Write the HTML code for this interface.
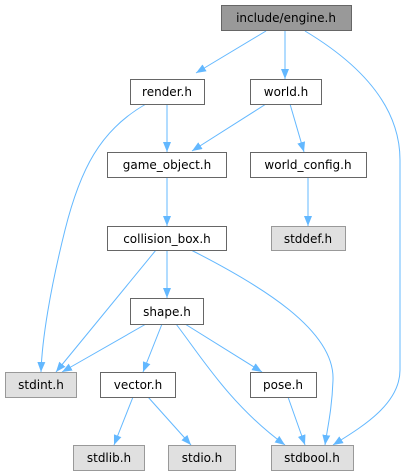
<!DOCTYPE html>
<html><head><style>
html,body{margin:0;padding:0;background:#fff;width:410px;height:476px;overflow:hidden}
svg text{font-family:"DejaVu Sans","Liberation Sans",sans-serif;font-size:12px;fill:#000}
</style></head><body>
<svg width="410" height="476" viewBox="0 0 410 476" xmlns="http://www.w3.org/2000/svg">
<defs>
<marker id="a" viewBox="0 0 10 8" refX="10" refY="4" markerWidth="10" markerHeight="8" markerUnits="userSpaceOnUse" orient="auto">
<path d="M0,0 L10,4 L0,8 Z" fill="#63b8ff"/>
</marker>
</defs>
<g fill="none" stroke="#63b8ff" stroke-width="1" marker-end="url(#a)">
<path d="M266,31 L196,73"/>
<path d="M285,31 L285,79"/>
<path d="M305,31 C350,58 400,100 400,160 L400,370 C400,405 360,428 333,445"/>
<path d="M146,104 C100,130 80,170 65,230 C50,290 42,340 41,372"/>
<path d="M167,104 L167,152"/>
<path d="M266,104 L192,151"/>
<path d="M290,104 L304,152"/>
<path d="M308,177 L308,226"/>
<path d="M167,177 L167,226"/>
<path d="M156,250 L56,372"/>
<path d="M167,250 L167,298"/>
<path d="M191,250 C260,285 335,330 333,380 C332,410 327,430 325,445"/>
<path d="M146,324 L62,372"/>
<path d="M162,324 L143,372"/>
<path d="M185,324 L262,372"/>
<path d="M176,324 C200,355 230,405 285,445"/>
<path d="M288,397 L305,445"/>
<path d="M133,397 L114,445"/>
<path d="M148,397 L191,445"/>
</g>
<g stroke-width="1">
<rect x="221.5" y="5.5" width="130" height="25" fill="#999" stroke="#666"/>
<rect x="130.5" y="79.5" width="74" height="25" fill="#fff" stroke="#666"/>
<rect x="250.5" y="79.5" width="71" height="25" fill="#fff" stroke="#666"/>
<rect x="107.5" y="152.5" width="119" height="25" fill="#fff" stroke="#666"/>
<rect x="250.5" y="152.5" width="116" height="25" fill="#fff" stroke="#666"/>
<rect x="107.5" y="226.5" width="119" height="24" fill="#fff" stroke="#666"/>
<rect x="271.5" y="226.5" width="74" height="24" fill="#e0e0e0" stroke="#999"/>
<rect x="130.5" y="298.5" width="73" height="26" fill="#fff" stroke="#666"/>
<rect x="5.5" y="372.5" width="71" height="25" fill="#e0e0e0" stroke="#999"/>
<rect x="100.5" y="372.5" width="75" height="25" fill="#fff" stroke="#666"/>
<rect x="250.5" y="372.5" width="66" height="25" fill="#fff" stroke="#666"/>
<rect x="73.5" y="445.5" width="71" height="25" fill="#e0e0e0" stroke="#999"/>
<rect x="168.5" y="445.5" width="67" height="25" fill="#e0e0e0" stroke="#999"/>
<rect x="271.5" y="445.5" width="82" height="25" fill="#e0e0e0" stroke="#999"/>
</g>
<g text-anchor="middle">
<text x="286" y="22">include/engine.h</text>
<text x="167" y="96">render.h</text>
<text x="286" y="96">world.h</text>
<text x="167" y="169">game_object.h</text>
<text x="308" y="169">world_config.h</text>
<text x="167" y="243">collision_box.h</text>
<text x="308" y="243">stddef.h</text>
<text x="167" y="316">shape.h</text>
<text x="41" y="389">stdint.h</text>
<text x="138" y="389">vector.h</text>
<text x="283" y="389">pose.h</text>
<text x="109" y="462">stdlib.h</text>
<text x="202" y="462">stdio.h</text>
<text x="312" y="462">stdbool.h</text>
</g>
</svg>
</body></html>
